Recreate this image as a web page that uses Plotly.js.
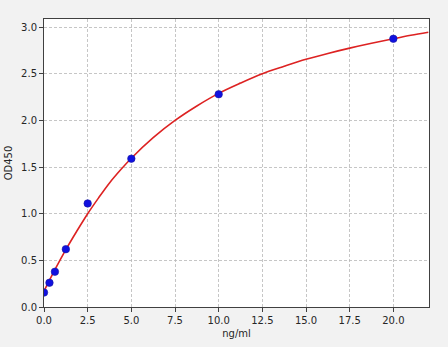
<!DOCTYPE html>
<html>
<head>
<meta charset="utf-8">
<script src="https://cdn.plot.ly/plotly-3.0.1.min.js"></script>
<style>html,body{margin:0;padding:0;background:#f2f2f2;}#chart{width:448px;height:347px;}</style>
</head>
<body>
<div id="chart"></div>
<script>
// Measured standards
var concentrations = [0, 0.3125, 0.625, 1.25, 2.5, 5, 10, 20];
var odValues = [0.155, 0.26, 0.378, 0.62, 1.11, 1.59, 2.28, 2.875];
// Fitted curve
var curveX = [0, 0.625, 1.25, 1.875, 2.5, 3.125, 3.75, 4.375, 5, 6.25, 7.5, 8.75, 10, 11.25, 12.5, 13.75, 15, 16.25, 17.5, 18.75, 20, 21, 22];
var curveY = [0.17, 0.40, 0.615, 0.812, 1.00, 1.17, 1.33, 1.468, 1.595, 1.815, 2.00, 2.155, 2.29, 2.40, 2.50, 2.58, 2.655, 2.718, 2.775, 2.827, 2.875, 2.912, 2.945];
var xTicks = [0, 2.5, 5, 7.5, 10, 12.5, 15, 17.5, 20];
var yTicks = [0, 0.5, 1.0, 1.5, 2.0, 2.5, 3.0];

var font = {family: 'DejaVu Sans', size: 10, color: '#262626'};
var traces = [
  {x: curveX, y: curveY, mode: 'lines', type: 'scatter',
   line: {color: '#dd2222', width: 1.6, shape: 'spline', smoothing: 1}, hoverinfo: 'skip'},
  {x: concentrations, y: odValues, mode: 'markers', type: 'scatter',
   marker: {color: '#1010e0', size: 7.5, line: {color: '#1a1aa0', width: 0.6}}}
];
var axisCommon = {
  showline: true, linecolor: '#404040', linewidth: 1, mirror: true,
  ticks: 'outside', ticklen: 4, tickwidth: 1, tickcolor: '#404040',
  showgrid: true, gridcolor: '#b8b8b8', griddash: '3px,2px', gridwidth: 0.8,
  zeroline: false, tickfont: font, tickformat: '.1f'
};
var layout = {
  width: 448, height: 347,
  paper_bgcolor: '#f2f2f2', plot_bgcolor: '#ffffff',
  margin: {l: 44, r: 19, t: 19, b: 40},
  showlegend: false,
  xaxis: Object.assign({}, axisCommon, {range: [0, 22.04], tickvals: xTicks,
    title: {text: 'ng/ml', font: font, standoff: 4}}),
  yaxis: Object.assign({}, axisCommon, {range: [0, 3.087], tickvals: yTicks,
    title: {text: 'OD450', font: font, standoff: 6}})
};
Plotly.newPlot('chart', traces, layout, {displayModeBar: false, staticPlot: true});
</script>
</body>
</html>
